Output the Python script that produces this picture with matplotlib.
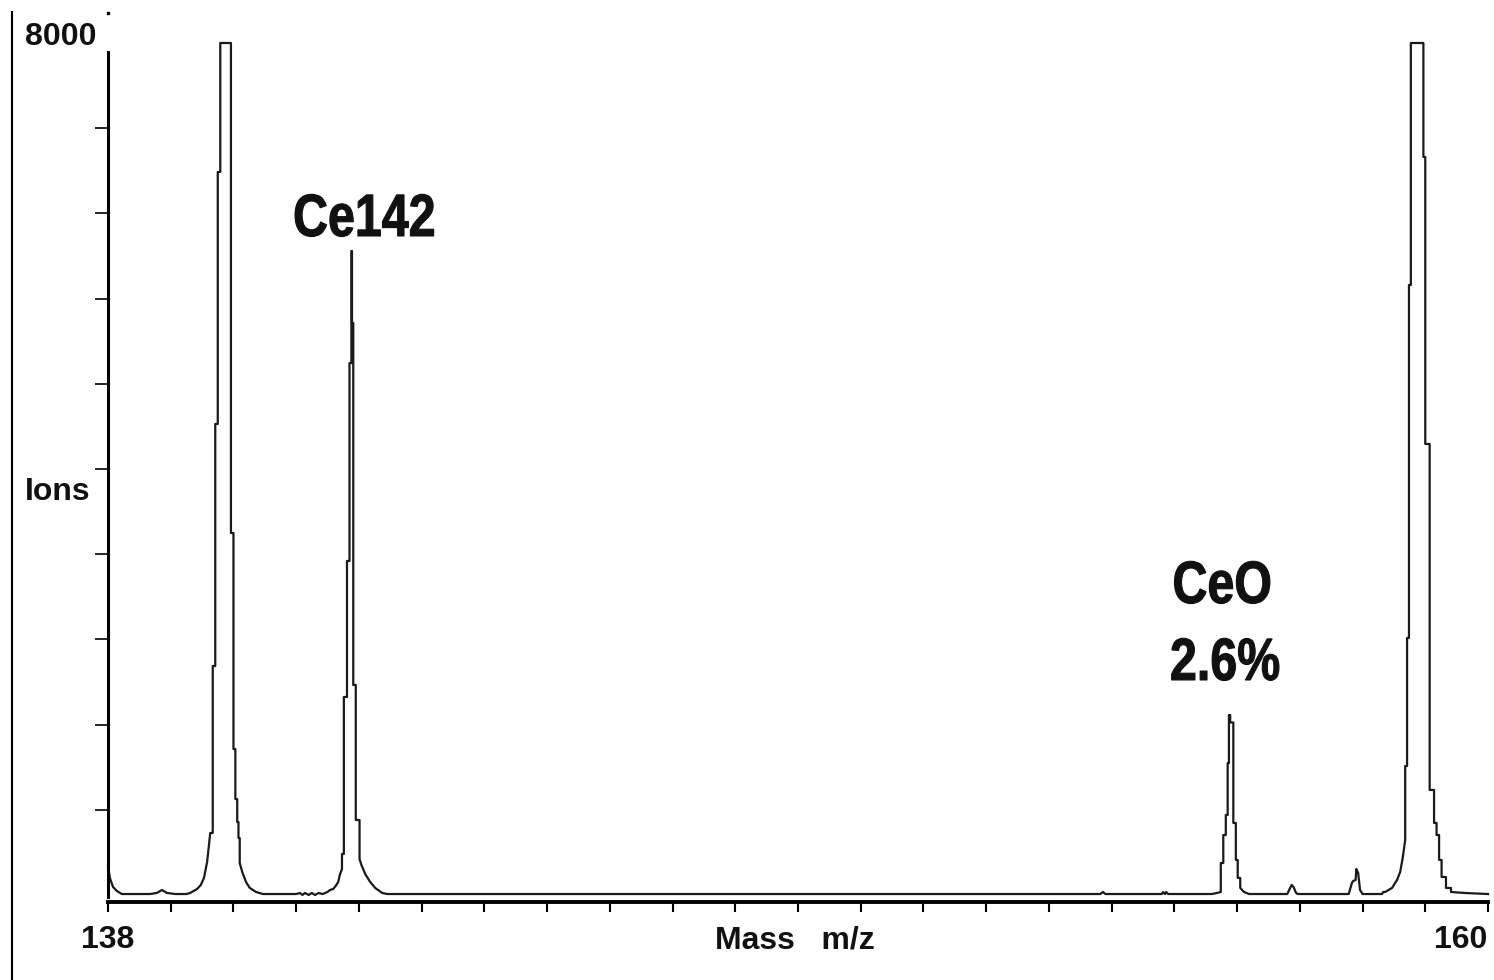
import numpy as np
import matplotlib.pyplot as plt
from matplotlib.lines import Line2D
from matplotlib.patheffects import AbstractPathEffect
from matplotlib.transforms import Affine2D

# profile spectrum, m/z vs ion counts (detector display clips at 8000)
mz_lead = [138.00, 138.03, 138.08, 138.14, 138.22, 138.67, 138.78, 138.86, 138.94, 139.07, 139.25]
ions_lead = [272, 160, 75, 38, 9, 9, 19, 47, 19, 9, 9]

mz_ce140 = [139.31, 139.42, 139.48, 139.53, 139.58, 139.61, 139.63, 139.67, 139.67, 139.71, 139.71,
            139.75, 139.75, 139.79, 139.79, 139.96, 139.96, 140.00, 140.00, 140.03, 140.03, 140.06,
            140.06, 140.08, 140.08, 140.10, 140.10, 140.14, 140.20, 140.26, 140.36, 140.47]
ions_ce140 = [19, 56, 94, 160, 310, 470, 582, 582, 2150, 2150, 4423, 4423, 6789, 6789, 8000, 8000,
              3399, 3399, 1371, 1371, 901, 901, 685, 685, 535, 535, 300, 216, 122, 66, 28, 9]

mz_gap1 = [141.00, 141.06, 141.10, 141.14, 141.20, 141.25, 141.30, 141.36, 141.42, 141.50]
ions_gap1 = [9, 19, 0, 19, 0, 19, 0, 19, 9, 28]

mz_ce142 = [141.54, 141.59, 141.63, 141.67, 141.70, 141.73, 141.73, 141.76, 141.76, 141.81, 141.81,
            141.85, 141.85, 141.88, 141.88, 141.89, 141.89, 141.91, 141.91, 141.95, 141.95, 142.01,
            142.01, 142.04, 142.10, 142.18, 142.26, 142.37, 142.45]
ions_ce142 = [47, 56, 85, 122, 197, 244, 385, 385, 1859, 1859, 3136, 3136, 4995, 4995, 6047, 6047,
              5371, 5371, 1972, 1972, 704, 704, 338, 282, 197, 122, 66, 19, 9]

mz_gap2 = [143.00, 153.82, 153.86, 153.90, 154.80, 154.82, 154.85, 154.87, 154.90, 155.60]
ions_gap2 = [9, 9, 28, 9, 9, 28, 9, 28, 9, 9]

mz_ceo = [155.68, 155.74, 155.74, 155.78, 155.78, 155.82, 155.82, 155.85, 155.85, 155.87, 155.87,
          155.89, 155.89, 155.94, 155.94, 155.98, 155.98, 156.01, 156.01, 156.05, 156.05, 156.11, 156.19]
ions_ceo = [19, 28, 300, 300, 563, 563, 751, 751, 1239, 1239, 1690, 1690, 1620, 1620, 676, 676,
            329, 329, 160, 160, 66, 28, 9]

mz_gap3 = [156.80, 156.83, 156.87, 156.90, 156.94, 156.97, 157.78, 157.83, 157.85, 157.89, 157.90,
           157.93, 157.96, 158.00, 158.31, 158.33]
ions_gap3 = [9, 47, 94, 75, 19, 9, 9, 113, 131, 141, 244, 207, 47, 9, 9, 28]

mz_tb159 = [158.36, 158.39, 158.47, 158.55, 158.60, 158.64, 158.68, 158.68, 158.71, 158.71, 158.74,
            158.74, 158.77, 158.77, 158.97, 158.97, 159.00, 159.00, 159.07, 159.07, 159.14, 159.14,
            159.18, 159.18, 159.22, 159.22, 159.26, 159.26, 159.33, 159.33, 159.41, 159.41, 159.62, 160.00]
ions_tb159 = [28, 38, 66, 141, 216, 347, 516, 1211, 1211, 2413, 2413, 5728, 5728, 8000, 8000, 6930,
              6930, 4235, 4235, 986, 986, 676, 676, 563, 563, 329, 329, 169, 169, 66, 66, 28, 19, 9]

mz = np.concatenate([mz_lead, mz_ce140, mz_gap1, mz_ce142, mz_gap2, mz_ceo, mz_gap3, mz_tb159])
ions = np.concatenate([ions_lead, ions_ce140, ions_gap1, ions_ce142, ions_gap2, ions_ceo, ions_gap3, ions_tb159])

x_ticks = np.arange(138, 161)
y_ticks = np.arange(800, 8000, 800)


class Condensed(AbstractPathEffect):
    """Squeeze glyphs horizontally about the text origin, with a heavier outline."""

    def __init__(self, sx=0.8, lw=1.2):
        super().__init__()
        self.sx = sx
        self.lw = lw

    def draw_path(self, renderer, gc, tpath, affine, rgbFace=None):
        gc0 = renderer.new_gc()
        gc0.copy_properties(gc)
        gc0.set_linewidth(self.lw)
        gc0.set_foreground(rgbFace)
        renderer.draw_path(gc0, tpath, Affine2D().scale(self.sx, 1) + affine, rgbFace)
        gc0.restore()


W, H = 1494, 980
fig = plt.figure(figsize=(W / 100, H / 100), dpi=100)
ax = fig.add_axes([108 / W, 78 / H, 1380 / W, 859 / H])

ax.plot(mz, ions, color='#1a1a1a', lw=1.6, clip_on=False)

ax.set_xlim(138, 160)
ax.set_ylim(-66, 8000)
for s in ('top', 'right'):
    ax.spines[s].set_visible(False)
ax.spines['left'].set_linewidth(2.2)
ax.spines['left'].set_bounds(-20, 7916)
ax.spines['bottom'].set_linewidth(2.8)

ax.set_xticks(x_ticks)
ax.set_yticks(y_ticks)
ax.tick_params(axis='x', direction='out', length=7.5, width=1.5, labelbottom=False)
ax.tick_params(axis='y', direction='out', length=9.5, width=1.2, labelleft=False)

axfont = dict(family=['Liberation Sans', 'DejaVu Sans'], weight='bold', size=23, color='#111')
fig.text(25 / W, 1 - 45 / H, '8000', va='baseline', ha='left', **axfont)
fig.text(25 / W, 1 - 500 / H, 'Ions', va='baseline', ha='left', **axfont)
fig.text(108 / W, 1 - 948 / H, '138', va='baseline', ha='center', **axfont)
fig.text(1487 / W, 1 - 948 / H, '160', va='baseline', ha='right', **axfont)
fig.text(715 / W, 1 - 948 / H, 'Mass   m/z', va='baseline', ha='left', **axfont)

# peak labels
lblfont = dict(family=['Liberation Sans', 'DejaVu Sans'], weight='bold', size=43, color='#111',
               path_effects=[Condensed(0.81, 0.8)])
ax.text(140.95, 6188, 'Ce142', va='baseline', ha='left', **lblfont)
ax.text(154.97, 2742, 'CeO', va='baseline', ha='left', **lblfont)
ax.text(154.93, 2019, '2.6%', va='baseline', ha='left', **lblfont)

# window frame edge and marker at top of the y axis
fig.add_artist(Line2D([12 / W, 12 / W], [0, 1 - 12 / H], color='black', lw=1.5))
fig.add_artist(Line2D([108 / W], [1 - 13 / H], marker='s', ms=1.5, color='black', lw=0))

fig.savefig('out.png', dpi=100)
